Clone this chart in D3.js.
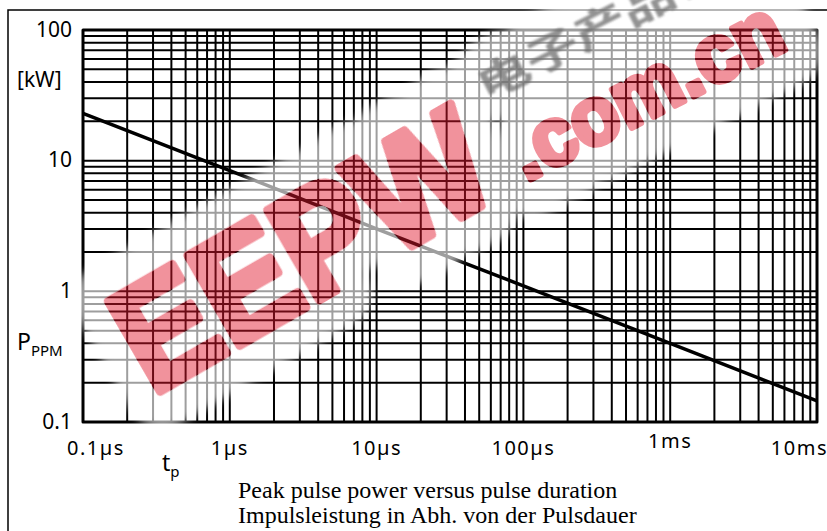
<!DOCTYPE html>
<html>
<head>
<meta charset="utf-8">
<script src="https://cdn.jsdelivr.net/npm/d3@7"></script>
<style>
  html, body { margin: 0; padding: 0; background: #fff; }
  svg { display: block; }
</style>
</head>
<body>
<svg id="chart" width="827" height="531"></svg>
<script>
// ---------- data ----------
const xTickValues = [1e-7, 1e-6, 1e-5, 1e-4, 1e-3, 1e-2];
const xTickLabels = ["0.1µs", "1µs", "10µs", "100µs", "1ms", "10ms"];
const yTickValues = [0.1, 1, 10, 100];
const yTickLabels = ["0.1", "1", "10", "100"];
const pulseDuration = [1e-7, 1e-6, 1e-5, 1e-4, 1e-3, 1e-2];   // seconds
const peakPower = [23, 8.4, 3.0, 1.1, 0.40, 0.145];           // kW
const titleLines = ["Peak pulse power versus pulse duration",
                    "Impulsleistung in Abh. von der Pulsdauer"];
const watermarkTexts = ["EEPW", ".com.cn", "电子产品世界"];

// ---------- layout ----------
const W = 827, H = 531;
const svg = d3.select("#chart");
const plot = { left: 83, right: 817, top: 30, bottom: 422 };
const x = d3.scaleLog().domain([1e-7, 1e-2]).range([plot.left, plot.right]);
const y = d3.scaleLog().domain([0.1, 100]).range([plot.bottom, plot.top]);
const tickFont = "'Noto Sans', 'DejaVu Sans', sans-serif";

// outer frame (partial, clipped by image)
svg.append("path")
  .attr("d", "M8,531 L8,10 L827,10")
  .attr("fill", "none").attr("stroke", "#000").attr("stroke-width", 1.5);

// grid
const grid = svg.append("g");
grid.selectAll("line.v").data(x.ticks()).enter().append("line")
  .attr("x1", d => x(d)).attr("x2", d => x(d))
  .attr("y1", plot.top).attr("y2", plot.bottom)
  .attr("stroke", "#000").attr("stroke-width", 2);
grid.selectAll("line.h").data(y.ticks()).enter().append("line")
  .attr("y1", d => y(d)).attr("y2", d => y(d))
  .attr("x1", plot.left).attr("x2", plot.right)
  .attr("stroke", "#000").attr("stroke-width", 2);

// plot frame
svg.append("rect")
  .attr("x", plot.left).attr("y", plot.top)
  .attr("width", plot.right - plot.left).attr("height", plot.bottom - plot.top)
  .attr("fill", "none").attr("stroke", "#000").attr("stroke-width", 3)
  .attr("stroke-linejoin", "round");

// curve
const line = d3.line().x((d, i) => x(pulseDuration[i])).y(d => y(d));
svg.append("path").datum(peakPower)
  .attr("d", line)
  .attr("fill", "none").attr("stroke", "#000").attr("stroke-width", 3.5);

// y tick labels
svg.append("g").selectAll("text").data(yTickValues).enter().append("text")
  .attr("x", 72).attr("y", d => y(d) + 1)
  .attr("text-anchor", "end").attr("dominant-baseline", "middle")
  .attr("font-family", tickFont).attr("font-size", 21)
  .text((d, i) => yTickLabels[i]);

// x tick labels (clamped inside the picture)
const xl = svg.append("g").selectAll("text").data(xTickValues).enter().append("text")
  .attr("y", 450).attr("dominant-baseline", "middle")
  .attr("text-anchor", "middle")
  .attr("font-family", tickFont).attr("font-size", 20)
  .attr("letter-spacing", 1.5)
  .text((d, i) => xTickLabels[i]);
xl.each(function (d, i) {
  const w = this.getComputedTextLength();
  let cx = x(d);
  cx = Math.max(cx, 67 + w / 2);
  cx = Math.min(cx, W - w / 2 + 1);
  d3.select(this).attr("x", cx);
  if (xTickLabels[i] === "1ms") d3.select(this).attr("y", 443);
});

// axis titles
svg.append("text").attr("x", 17).attr("y", 81).attr("dominant-baseline", "middle")
  .attr("font-family", tickFont).attr("font-size", 21).text("[kW]");
const pText = svg.append("text").attr("x", 17).attr("y", 350)
  .attr("font-family", tickFont).attr("font-size", 23);
pText.append("tspan").text("P");
pText.append("tspan").attr("font-size", 15).attr("dy", 6).text("PPM");
const tText = svg.append("text").attr("x", 162).attr("y", 471)
  .attr("font-family", tickFont).attr("font-size", 23);
tText.append("tspan").text("t");
tText.append("tspan").attr("font-size", 15).attr("dy", 6).text("p");

// chart caption (left aligned)
svg.append("g").selectAll("text").data(titleLines).enter().append("text")
  .attr("x", 238).attr("y", (d, i) => 498 + i * 25)
  .attr("font-family", "'Liberation Serif', 'Times New Roman', serif")
  .attr("font-size", 24)
  .text(d => d);

// ---------- watermark ----------
const marks = [
  { text: watermarkTexts[0], x0: 152, y0: 396, rot: -30, size: 150, len: 405, bold: 9,
    font: "'Liberation Sans', Arial, sans-serif", kind: "red" },
  { text: watermarkTexts[1], x0: 526, y0: 182, rot: -27, size: 82, len: 296, bold: 6,
    font: "'Liberation Sans', Arial, sans-serif", kind: "red" },
  { text: watermarkTexts[2], x0: 486, y0: 101, rot: -27, size: 40, len: 325, bold: 0,
    font: "'Noto Sans CJK SC', sans-serif", kind: "grey" }
];
const defs = svg.append("defs");
defs.append("filter").attr("id", "blur")
  .attr("filterUnits", "userSpaceOnUse").attr("x", -50).attr("y", -50)
  .attr("width", W + 100).attr("height", H + 100)
  .append("feGaussianBlur").attr("stdDeviation", 4);
defs.append("filter").attr("id", "soft")
  .append("feGaussianBlur").attr("stdDeviation", 0.8);

function addMark(parent, m) {
  return parent.append("g")
    .attr("transform", `translate(${m.x0},${m.y0}) rotate(${m.rot})`)
    .append("text")
    .attr("font-family", m.font).attr("font-weight", "bold").attr("font-size", m.size)
    .attr("textLength", m.len).attr("lengthAdjust", "spacingAndGlyphs")
    .attr("stroke-linejoin", "round")
    .text(m.text);
}

// mask that removes glow from inside the letters
const mask = defs.append("mask").attr("id", "letters")
  .attr("maskUnits", "userSpaceOnUse").attr("x", 0).attr("y", 0).attr("width", W).attr("height", H);
mask.append("rect").attr("width", W).attr("height", H).attr("fill", "#fff");
marks.filter(m => m.kind === "red").forEach(m => {
  addMark(mask, m).attr("fill", "#000").attr("stroke", "#000").attr("stroke-width", m.bold);
});

const wm = svg.append("g");
const glow = wm.append("g").attr("mask", "url(#letters)");
const glowInner = glow.append("g").attr("opacity", 0.62);
const glowBlur = glowInner.append("g").attr("filter", "url(#blur)");
marks.forEach(m => {
  addMark(glowBlur, m).attr("fill", "#fff").attr("stroke", "#fff")
    .attr("stroke-width", m.kind === "red" ? 76 : 50);
});
marks.forEach(m => {
  const t = addMark(wm, m);
  if (m.kind === "red") {
    t.attr("fill", "rgb(225,25,45)").attr("stroke", "rgb(225,25,45)")
     .attr("stroke-width", m.bold).attr("opacity", 0.47);
  } else {
    t.attr("fill", "#6e6e6e").attr("opacity", 0.75).attr("filter", "url(#soft)");
  }
});
</script>
</body>
</html>
